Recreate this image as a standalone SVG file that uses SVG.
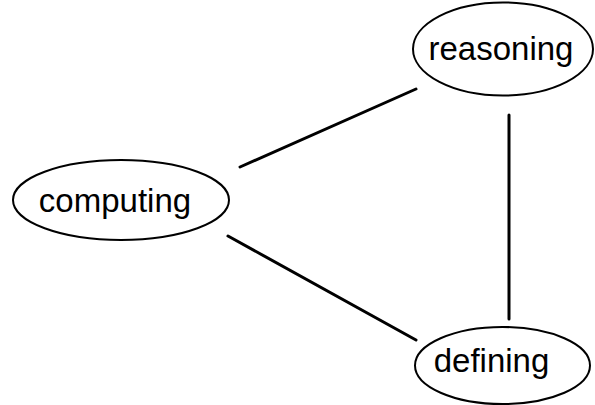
<svg xmlns="http://www.w3.org/2000/svg" width="595" height="405" viewBox="0 0 595 405">
  <style>
    .node ellipse { fill: #ffffff; stroke: #000000; stroke-width: 2; }
    .node text { font-family: "Liberation Sans", Arial, sans-serif; font-size: 33px; fill: #000000; text-anchor: middle; }
    .edges line { stroke: #000000; stroke-width: 3; stroke-linecap: round; }
  </style>
  <rect width="595" height="405" fill="#ffffff"/>
  <g id="edges" class="edges">
    <line x1="240" y1="167" x2="416" y2="89"/>
    <line x1="509" y1="115" x2="509" y2="319"/>
    <line x1="228" y1="236" x2="416" y2="340"/>
  </g>
  <g id="reasoning" class="node">
    <ellipse cx="503" cy="49" rx="90" ry="46.5"/>
    <text x="501" y="60">reasoning</text>
  </g>
  <g id="computing" class="node">
    <ellipse cx="121" cy="200" rx="108" ry="40"/>
    <text x="115" y="212">computing</text>
  </g>
  <g id="defining" class="node">
    <ellipse cx="502.5" cy="365.5" rx="87.5" ry="38.5"/>
    <text x="491.5" y="372">defining</text>
  </g>
</svg>
